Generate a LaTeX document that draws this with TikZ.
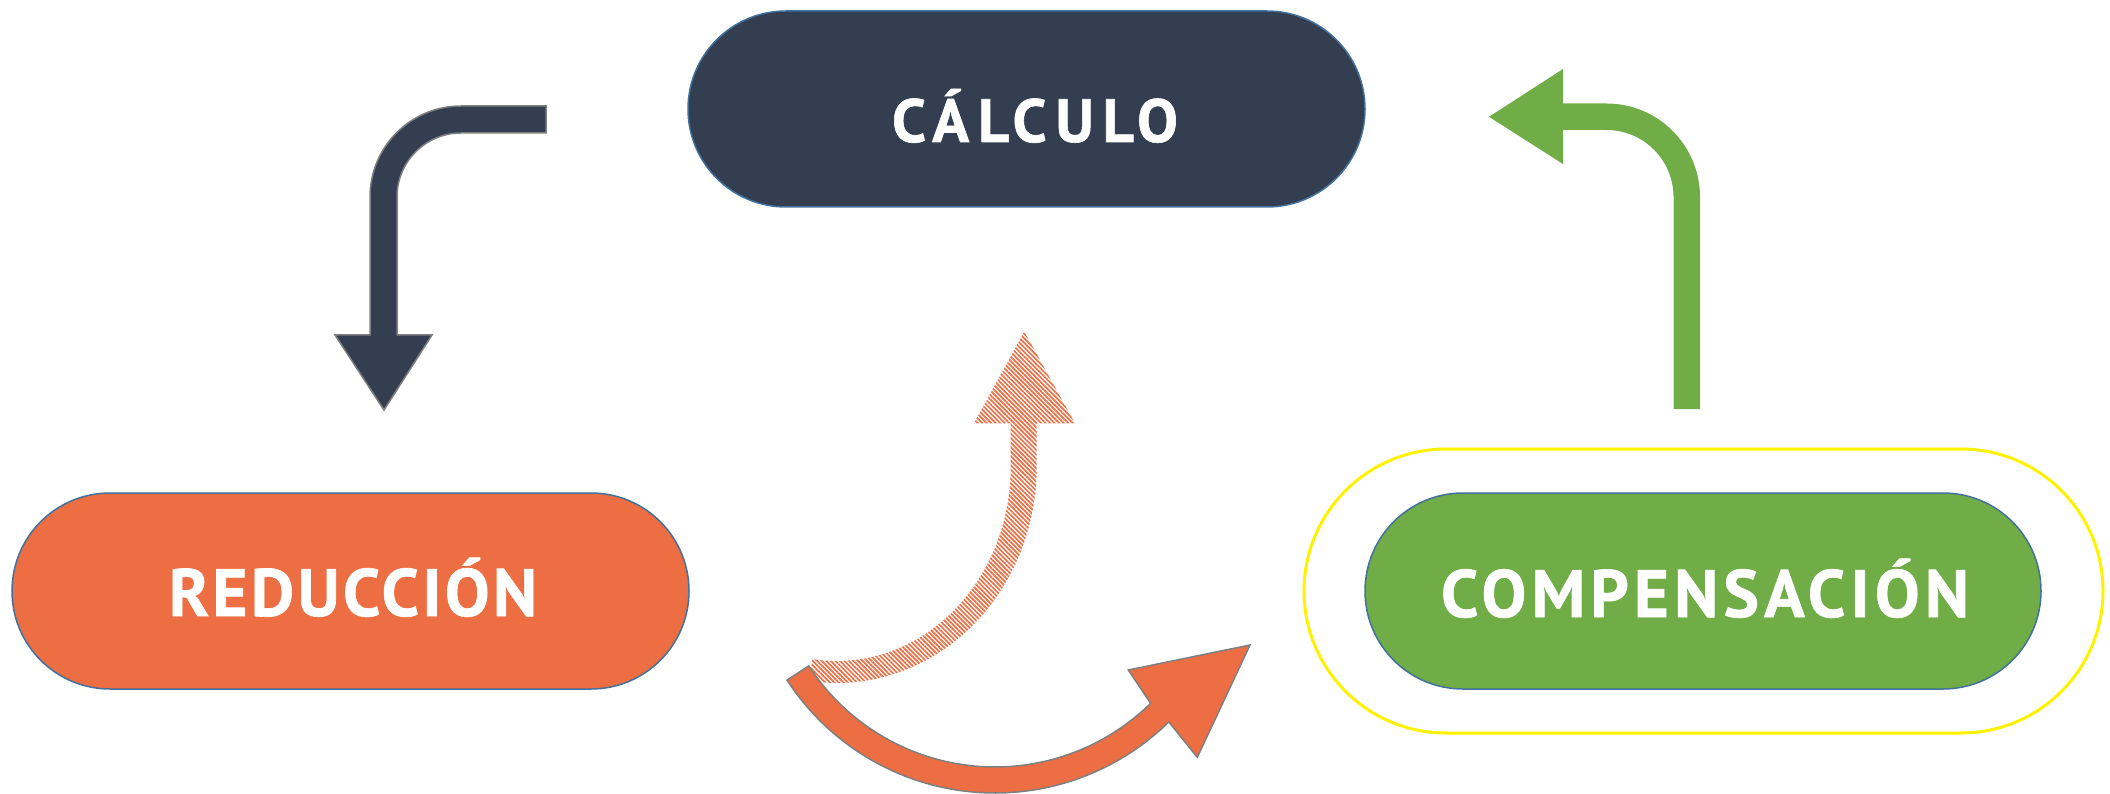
\documentclass[tikz,border=0pt]{standalone}
\usepackage{fontspec}
\setmainfont{PT Sans}[BoldFeatures={FakeBold=1}]
\usetikzlibrary{patterns.meta,calc}
\definecolor{navy}{HTML}{333F50}
\definecolor{org}{HTML}{ED6E43}
\definecolor{grn}{HTML}{70AD47}
\definecolor{edgeblue}{HTML}{41719C}
\definecolor{grayline}{HTML}{7F7F7F}
\begin{document}
\begin{tikzpicture}[x=1pt,y=-1pt,
  pill/.style={draw=edgeblue, line width=1.5pt, rectangle, rounded corners=98pt,
    minimum width=677pt, minimum height=196pt, inner sep=0pt},
  lab/.style={text=white, font=\bfseries\fontsize{67}{72}\selectfont, anchor=base, inner sep=0pt},
  shapeline/.style={draw=grayline, line width=1.5pt, line join=miter}]
\useasboundingbox (0,0) rectangle (2110,794);

% pills
\node[pill, fill=navy] (calc) at (1026.5,109) {};
\node[pill, fill=org] (red) at (350.5,591) {};
\node[draw=yellow, line width=3pt, rectangle, rounded corners=142pt,
  minimum width=799pt, minimum height=284pt, inner sep=0pt] (ring) at (1703.5,591) {};
\node[pill, fill=grn, minimum width=676pt] (comp) at (1703,591) {};

% labels
\node[lab] (tcalc) at (1035,142) {\fontsize{61}{66}\selectfont\addfontfeatures{LetterSpace=14.5}CÁLCULO};
\node[lab] (tred) at (353,616) {\addfontfeatures{LetterSpace=5}REDUCCIÓN};
\node[lab] (tcomp) at (1705,617) {\addfontfeatures{LetterSpace=7.8}COMPENSACIÓN};

% dark bent arrow
\draw[shapeline, fill=navy] (546,106) -- (461,106) arc[start angle=270, end angle=180, radius=91]
  -- (370,335) -- (335,335) -- (384,410) -- (432,335) -- (397,335) -- (397,197)
  arc[start angle=180, end angle=270, radius=64] -- (546,133) -- cycle;

% green bent arrow
\fill[grn] (1700,409) -- (1700,197) arc[start angle=0, end angle=-90, radius=93.5]
  -- (1563,103.5) -- (1563,69) -- (1489,116.8) -- (1563,164) -- (1563,130)
  -- (1606.5,130) arc[start angle=-90, end angle=0, radius=67] -- (1673.5,409) -- cycle;

% hatched curved arrow
\path[pattern={Lines[angle=-45,distance=3.2pt,line width=1.7pt]}, pattern color=org]
  (1024.3,331.7) -- (1075,423.3) -- (1036.7,423.3) -- (1036.7,467)
  arc[start angle=0, end angle=98, x radius=200, y radius=216]
  -- ($(836.7,467)+(98:174 and 194)$)
  arc[start angle=98, end angle=0, x radius=174, y radius=194]
  -- (1010.7,423.3) -- (974,423.3) -- cycle;

% solid curved arrow
\draw[shapeline, fill=org] ($(995,545)+(147:248)$)
  arc[start angle=147, end angle=45.5, radius=248]
  -- (1197.3,757.3) -- (1250,645) -- (1128.3,670)
  -- ($(995,545)+(45.5:222)$)
  arc[start angle=45.5, end angle=147, radius=222] -- cycle;
\end{tikzpicture}
\end{document}
